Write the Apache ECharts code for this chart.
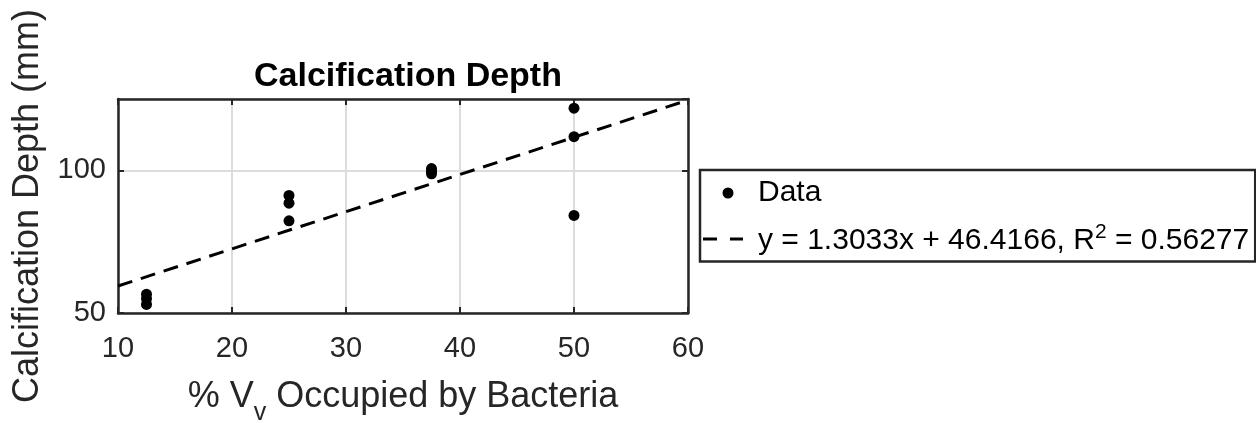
<!DOCTYPE html>
<html>
<head>
<meta charset="utf-8">
<script src="https://cdn.jsdelivr.net/npm/echarts@6/dist/echarts.min.js"></script>
<style>html,body{margin:0;padding:0;background:#fff;}#c{width:1256px;height:423px;}</style>
</head>
<body>
<div id="c"></div>
<script>
// Data
const dataX = [12.5, 12.5, 12.5, 25, 25, 25, 37.5, 37.5, 37.5, 50, 50, 50];
const dataY = [56.6, 55.0, 53.0, 91.2, 88.5, 82.3, 100.6, 99.6, 98.8, 121.8, 111.8, 84.2];
const fitX = [10, 60];
const fitY = [59.45, 124.61];
const xTicks = [10, 20, 30, 40, 50, 60];
const yTicks = [50, 100];
const seriesNames = ['Data', 'y = 1.3033x + 46.4166, R^2 = 0.56277'];

const FONT = 'Liberation Sans, Arial, sans-serif';
const AX = '#262626';
const chart = echarts.init(document.getElementById('c'), null, {renderer: 'canvas'});
const tick = {show: true, inside: true, length: 6, lineStyle: {color: AX, width: 2}};
const line = {show: true, onZero: false, lineStyle: {color: AX, width: 2.5}};
chart.setOption({
  animation: false,
  backgroundColor: '#fff',
  title: {
    text: 'Calcification Depth', left: 403, top: 55, textAlign: 'center',
    textStyle: {fontFamily: FONT, fontSize: 34, fontWeight: 'bold', color: '#000'}
  },
  grid: {left: 118, right: 568, top: 99, bottom: 110, containLabel: false, outerBoundsMode: 'none'},
  xAxis: [{
    type: 'value', min: xTicks[0], max: xTicks[xTicks.length - 1], interval: 10,
    position: 'bottom', axisLine: line, axisTick: tick,
    axisLabel: {fontFamily: FONT, fontSize: 29, color: AX, margin: 21},
    splitLine: {show: true, lineStyle: {color: '#dcdcdc', width: 2}},
    name: '% V{sub|v} Occupied by Bacteria', nameLocation: 'middle', nameGap: 56,
    nameTextStyle: {fontFamily: FONT, fontSize: 36, color: AX,
      rich: {sub: {fontFamily: FONT, fontSize: 25, color: AX, verticalAlign: 'bottom', padding: [32, 0, 0, 0]}}}
  }, {
    type: 'value', min: 10, max: 60, interval: 10, position: 'top',
    axisLine: line, axisLabel: {show: false}, axisTick: tick, splitLine: {show: false}
  }],
  yAxis: [{
    type: 'value', min: yTicks[0], max: 125, interval: 50,
    position: 'left', axisLine: line, axisTick: tick,
    axisLabel: {fontFamily: FONT, fontSize: 29, color: AX, margin: 12, showMaxLabel: false},
    splitLine: {show: true, lineStyle: {color: '#dcdcdc', width: 2}},
    name: 'Calcification Depth (mm)', nameLocation: 'middle', nameGap: 72,
    nameTextStyle: {fontFamily: FONT, fontSize: 36, color: AX}
  }, {
    type: 'value', min: 50, max: 125, interval: 50, position: 'right',
    axisLine: line, axisLabel: {show: false}, axisTick: tick, splitLine: {show: false}
  }],
  legend: {
    orient: 'vertical', left: 700, top: 170, width: 552,
    padding: [8, 6, 6, 3], itemGap: 14, itemWidth: 50, itemHeight: 11,
    backgroundColor: '#fff', borderColor: AX, borderWidth: 2.5,
    data: [{name: seriesNames[0], icon: 'circle', itemStyle: {color: '#000'}},
           {name: seriesNames[1], itemStyle: {color: '#000'},
            icon: 'path://M0,0h0.01v0.01h-0.01z M50,11h0.01v0.01h-0.01z M0,2.5h14v3h-14z M27,2.5h13v3h-13z'}],
    formatter: function (n) { return n === seriesNames[1] ? 'y = 1.3033x + 46.4166, R{sup|2} = 0.56277' : n; },
    textStyle: {fontFamily: FONT, fontSize: 30, color: '#000',
      rich: {sup: {fontFamily: FONT, fontSize: 21, color: '#000', verticalAlign: 'top', padding: [0, 0, 16, 0]}}}
  },
  series: [{
    name: seriesNames[0], type: 'scatter', symbol: 'circle', symbolSize: 11,
    itemStyle: {color: '#000', opacity: 1},
    data: dataX.map((x, i) => [x, dataY[i]]), z: 5
  }, {
    name: seriesNames[1], type: 'line', showSymbol: false, symbol: 'none',
    lineStyle: {color: '#000', width: 3, type: [15, 9]},
    itemStyle: {color: '#000'},
    data: fitX.map((x, i) => [x, fitY[i]]), z: 4
  }]
});
</script>
</body>
</html>
